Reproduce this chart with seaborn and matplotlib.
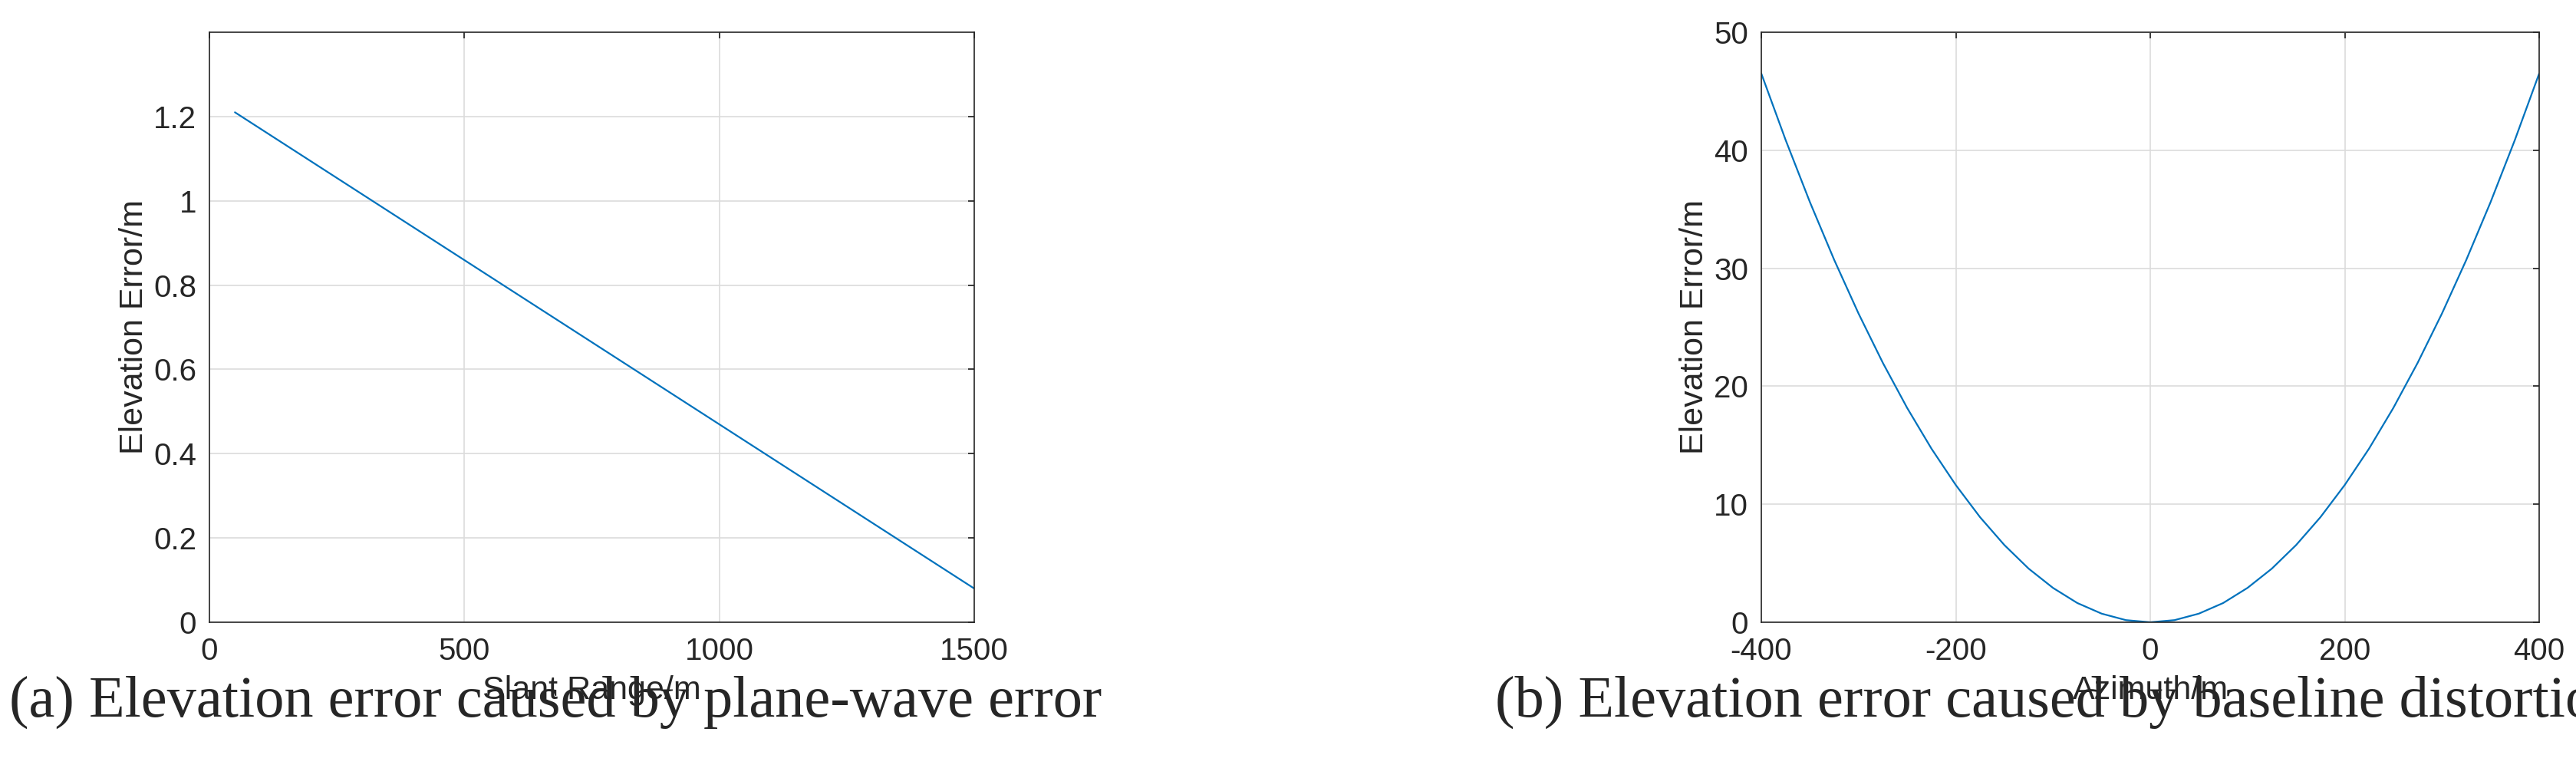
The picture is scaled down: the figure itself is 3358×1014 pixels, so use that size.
import matplotlib
matplotlib.use("Agg")
import matplotlib.pyplot as plt
import seaborn as sns
import pandas as pd

# (a) plane-wave error
slant_range = [50, 1500]
elev_err_a = [1.21, 0.08]

# (b) baseline distortion error
azimuth = [-400, -375, -350, -325, -300, -275, -250, -225, -200, -175, -150, -125, -100, -75, -50, -25,
           0, 25, 50, 75, 100, 125, 150, 175, 200, 225, 250, 275, 300, 325, 350, 375, 400]
half = [46.5, 40.87, 35.6, 30.7, 26.16, 21.98, 18.16, 14.71, 11.63, 8.9, 6.54, 4.54, 2.91, 1.63, 0.73, 0.18]
elev_err_b = half + [0.0] + half[::-1]

sns.set_theme(style="whitegrid")
plt.rcParams['font.family'] = ['Liberation Sans', 'DejaVu Sans']
plt.rcParams['axes.unicode_minus'] = False
line_color = "#0072BD"

fig = plt.figure(figsize=(33.58, 10.14), dpi=100)
ax1 = fig.add_axes([273/3358, 1 - 811/1014, (1270-273)/3358, (811-42)/1014])
ax2 = fig.add_axes([2296/3358, 1 - 811/1014, (3310-2296)/3358, (811-42)/1014])

df_a = pd.DataFrame({"x": slant_range, "y": elev_err_a})
df_b = pd.DataFrame({"x": azimuth, "y": elev_err_b})
sns.lineplot(data=df_a, x="x", y="y", ax=ax1, color=line_color, linewidth=1.6)
sns.lineplot(data=df_b, x="x", y="y", ax=ax2, color=line_color, linewidth=1.6)

ax1.set_xlim(0, 1500)
ax1.set_ylim(0, 1.4)
ax1.set_xticks([0, 500, 1000, 1500])
ax1.set_yticks([0, 0.2, 0.4, 0.6, 0.8, 1.0, 1.2])
ax1.set_yticklabels(["0", "0.2", "0.4", "0.6", "0.8", "1", "1.2"])
ax1.set_xlabel("Slant Range/m")
ax1.set_ylabel("Elevation Error/m")

ax2.set_xlim(-400, 400)
ax2.set_ylim(0, 50)
ax2.set_xticks([-400, -200, 0, 200, 400])
ax2.set_yticks([0, 10, 20, 30, 40, 50])
ax2.set_xlabel("Azimuth/m")
ax2.set_ylabel("Elevation Error/m")

for ax in (ax1, ax2):
    ax.grid(True, color="#dcdcdc", linewidth=1.2)
    for s in ax.spines.values():
        s.set_color("#262626")
        s.set_linewidth(1.2)
    ax.tick_params(labelsize=29, colors="#262626", length=6, direction="in", top=True, right=True)
    ax.tick_params(axis="x", pad=14)
    ax.tick_params(axis="y", pad=12)
    ax.xaxis.label.set_size(31)
    ax.yaxis.label.set_size(31)
    ax.xaxis.label.set_color("#262626")
    ax.yaxis.label.set_color("#262626")
    ax.xaxis.labelpad = 8

fig.text(12/3358, 1 - 915/1014, "(a) Elevation error caused by plane-wave error",
         fontsize=55, family=['Liberation Serif', 'DejaVu Serif'], va="center")
fig.text(1949/3358, 1 - 915/1014, "(b) Elevation error caused by baseline distortion error",
         fontsize=55, family=['Liberation Serif', 'DejaVu Serif'], va="center")

fig.savefig("out.png", dpi=100)
